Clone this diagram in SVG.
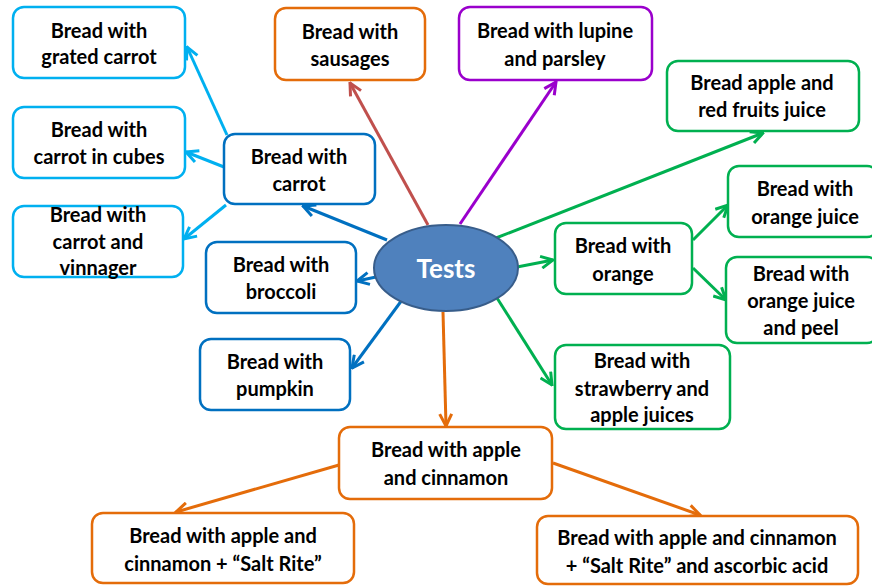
<svg xmlns="http://www.w3.org/2000/svg" width="872" height="586" viewBox="0 0 872 586">
<style>
.b{fill:#fff;stroke-width:2.5}
.t{font-family:Lato,"Liberation Sans",sans-serif;font-weight:bold;font-size:20px;fill:#000;text-anchor:middle}
.lb{stroke:#00b0f0}.db{stroke:#0070c0}.or{stroke:#e46c0a}.pu{stroke:#9a00cc}.gr{stroke:#00b050}.rd{stroke:#c0504d}
#conn line{stroke-width:3;fill:none}
</style>
<defs>
<marker id="mlb" viewBox="0 0 10 10" refX="9" refY="5" markerWidth="5" markerHeight="5" orient="auto" markerUnits="strokeWidth"><path d="M1,1 L9,5 L1,9" fill="none" stroke="#00b0f0" stroke-width="2"/></marker>
<marker id="mdb" viewBox="0 0 10 10" refX="9" refY="5" markerWidth="5" markerHeight="5" orient="auto" markerUnits="strokeWidth"><path d="M1,1 L9,5 L1,9" fill="none" stroke="#0070c0" stroke-width="2"/></marker>
<marker id="mor" viewBox="0 0 10 10" refX="9" refY="5" markerWidth="5" markerHeight="5" orient="auto" markerUnits="strokeWidth"><path d="M1,1 L9,5 L1,9" fill="none" stroke="#e46c0a" stroke-width="2"/></marker>
<marker id="mpu" viewBox="0 0 10 10" refX="9" refY="5" markerWidth="5" markerHeight="5" orient="auto" markerUnits="strokeWidth"><path d="M1,1 L9,5 L1,9" fill="none" stroke="#9a00cc" stroke-width="2"/></marker>
<marker id="mgr" viewBox="0 0 10 10" refX="9" refY="5" markerWidth="5" markerHeight="5" orient="auto" markerUnits="strokeWidth"><path d="M1,1 L9,5 L1,9" fill="none" stroke="#00b050" stroke-width="2"/></marker>
<marker id="mrd" viewBox="0 0 10 10" refX="9" refY="5" markerWidth="5" markerHeight="5" orient="auto" markerUnits="strokeWidth"><path d="M1,1 L9,5 L1,9" fill="none" stroke="#c0504d" stroke-width="2"/></marker>
</defs>
<rect width="872" height="586" fill="#fff"/>
<g id="conn">
<line class="lb" x1="227" y1="135" x2="187" y2="47" marker-end="url(#mlb)"/>
<line class="lb" x1="224" y1="167" x2="186" y2="152" marker-end="url(#mlb)"/>
<line class="lb" x1="226" y1="205" x2="184" y2="239" marker-end="url(#mlb)"/>
<line class="db" x1="387" y1="240" x2="303" y2="206" marker-end="url(#mdb)"/>
<line class="db" x1="376" y1="277" x2="357" y2="281" marker-end="url(#mdb)"/>
<line class="db" x1="402" y1="300" x2="352" y2="368" marker-end="url(#mdb)"/>
<line class="rd" x1="428" y1="225" x2="350" y2="83" marker-end="url(#mrd)"/>
<line class="pu" x1="460" y1="224" x2="556" y2="82" marker-end="url(#mpu)"/>
<line class="gr" x1="496" y1="238" x2="763" y2="133" marker-end="url(#mgr)"/>
<line class="gr" x1="517" y1="267" x2="553" y2="260" marker-end="url(#mgr)"/>
<line class="gr" x1="693" y1="240" x2="728" y2="205" marker-end="url(#mgr)"/>
<line class="gr" x1="693" y1="268" x2="726" y2="300" marker-end="url(#mgr)"/>
<line class="gr" x1="497" y1="298" x2="552" y2="385" marker-end="url(#mgr)"/>
<line class="or" x1="443" y1="312" x2="446" y2="426" marker-end="url(#mor)"/>
<line class="or" x1="339" y1="465" x2="176" y2="512" marker-end="url(#mor)"/>
<line class="or" x1="553" y1="463" x2="700" y2="515" marker-end="url(#mor)"/>
</g>
<g id="n-grated"><rect class="b lb" x="13" y="7" width="172" height="71" rx="11"/><text class="t" x="99" y="38">Bread with</text><text class="t" x="99" y="64">grated carrot</text></g>
<g id="n-cubes"><rect class="b lb" x="13" y="107" width="172" height="71" rx="11"/><text class="t" x="99" y="137">Bread with</text><text class="t" x="99" y="164">carrot in cubes</text></g>
<g id="n-vinnager"><rect class="b lb" x="13" y="206" width="170" height="71" rx="11"/><text class="t" x="98" y="222">Bread with</text><text class="t" x="98" y="249">carrot and</text><text class="t" x="98" y="275">vinnager</text></g>
<g id="n-carrot"><rect class="b db" x="224" y="134" width="151" height="70" rx="11"/><text class="t" x="299" y="164">Bread with</text><text class="t" x="299" y="191">carrot</text></g>
<g id="n-broccoli"><rect class="b db" x="206" y="242" width="150" height="71" rx="11"/><text class="t" x="281" y="272">Bread with</text><text class="t" x="281" y="299">broccoli</text></g>
<g id="n-pumpkin"><rect class="b db" x="200" y="339" width="150" height="71" rx="11"/><text class="t" x="275" y="369">Bread with</text><text class="t" x="275" y="396">pumpkin</text></g>
<g id="n-sausages"><rect class="b or" x="275" y="8" width="150" height="72" rx="11"/><text class="t" x="350" y="39">Bread with</text><text class="t" x="350" y="66">sausages</text></g>
<g id="n-lupine"><rect class="b pu" x="459" y="7" width="193" height="73" rx="11"/><text class="t" x="555" y="38">Bread with lupine</text><text class="t" x="555" y="66">and parsley</text></g>
<g id="n-redfruits"><rect class="b gr" x="667" y="61" width="192" height="70" rx="11"/><text class="t" x="762" y="90">Bread apple and</text><text class="t" x="762" y="117">red fruits juice</text></g>
<g id="n-orange"><rect class="b gr" x="555" y="223" width="137" height="71" rx="11"/><text class="t" x="623" y="253">Bread with</text><text class="t" x="623" y="281">orange</text></g>
<g id="n-ojuice"><rect class="b gr" x="728" y="166" width="150" height="71" rx="11"/><text class="t" x="805" y="196">Bread with</text><text class="t" x="805" y="224">orange juice</text></g>
<g id="n-peel"><rect class="b gr" x="726" y="257" width="152" height="86" rx="11"/><text class="t" x="801" y="281">Bread with</text><text class="t" x="801" y="308">orange juice</text><text class="t" x="801" y="335">and peel</text></g>
<g id="n-strawberry"><rect class="b gr" x="555" y="345" width="175" height="84" rx="11"/><text class="t" x="642" y="368">Bread with</text><text class="t" x="642" y="396">strawberry and</text><text class="t" x="642" y="422">apple juices</text></g>
<g id="n-applecin"><rect class="b or" x="339" y="427" width="213" height="72" rx="11"/><text class="t" x="446" y="457">Bread with apple</text><text class="t" x="446" y="485">and cinnamon</text></g>
<g id="n-saltrite"><rect class="b or" x="92" y="513" width="262" height="70" rx="11"/><text class="t" x="223" y="543">Bread with apple and</text><text class="t" x="223" y="571">cinnamon + “Salt Rite”</text></g>
<g id="n-ascorbic"><rect class="b or" x="537" y="516" width="321" height="68" rx="11"/><text class="t" x="697" y="545">Bread with apple and cinnamon</text><text class="t" x="697" y="573">+ “Salt Rite” and ascorbic acid</text></g>
<g id="n-tests"><ellipse cx="446" cy="268" rx="72" ry="43" fill="#4f81bd" stroke="#385d8a" stroke-width="2"/><text x="446" y="278" font-family="Lato,'Liberation Sans',sans-serif" font-weight="bold" font-size="26" fill="#fff" text-anchor="middle">Tests</text></g>
</svg>
